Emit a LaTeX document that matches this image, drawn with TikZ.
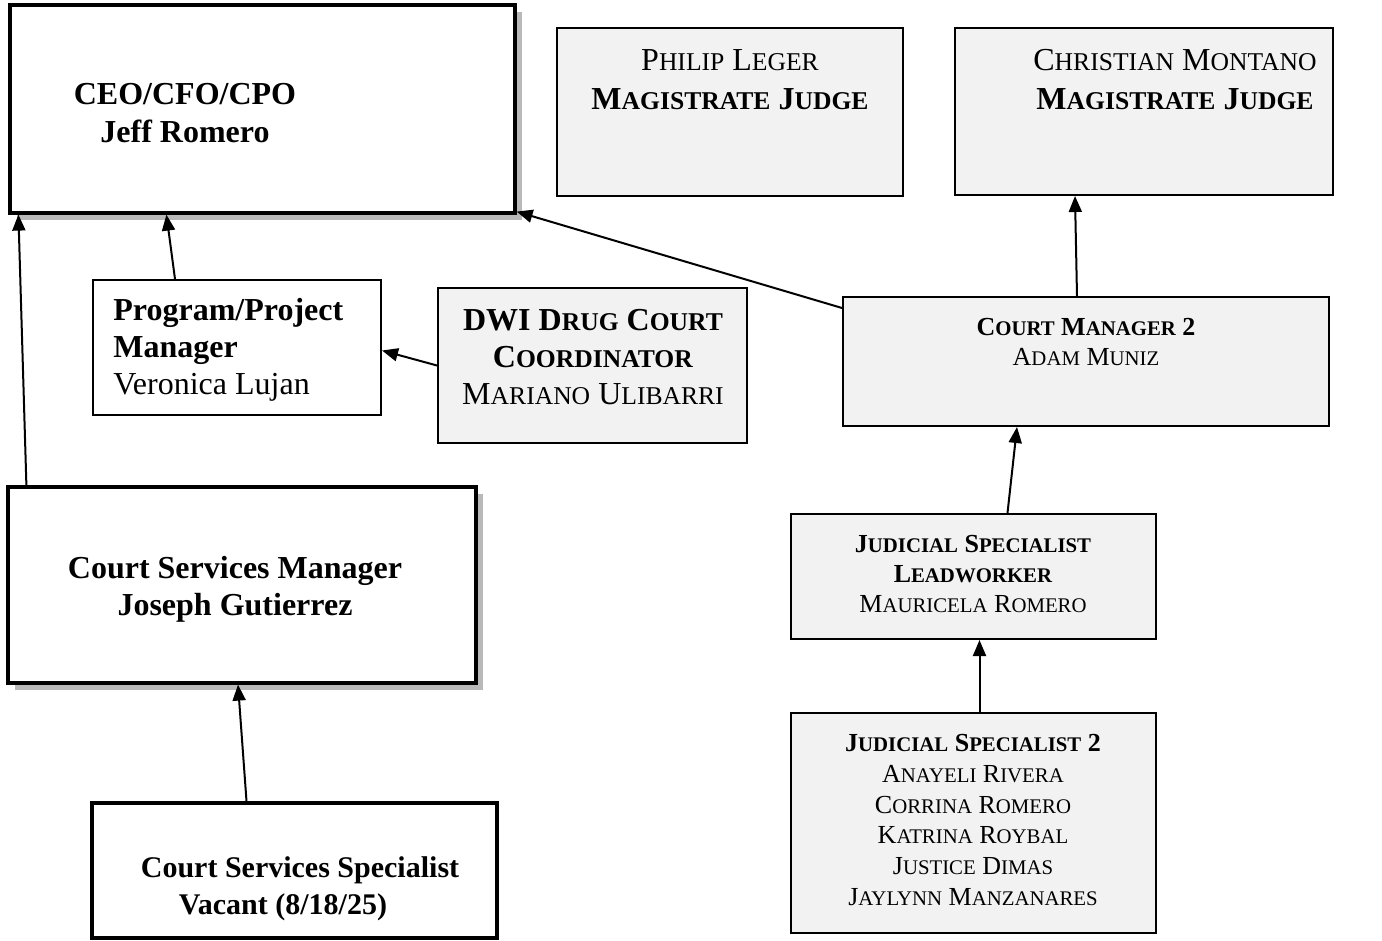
\documentclass[tikz,border=0pt]{standalone}
\usepackage{fontspec}
\setmainfont{Liberation Serif}
\usetikzlibrary{arrows.meta,fit,shadows}

\makeatletter
% fake small caps: the rest of a word set smaller
\newcommand\smcp[1]{{\fontsize{\strip@pt\dimexpr\f@size pt*8/10\relax}{\f@baselineskip}\selectfont #1}}
\makeatother
\newcommand\scw[2]{#1\smcp{#2}}

\begin{document}
\begin{tikzpicture}[x=0.5pt,y=-0.5pt,
box/.style={draw,line width=1pt,inner sep=0pt,fill=white},
heavy/.style={box,line width=1.6pt,drop shadow={shadow xshift=3.5pt,shadow yshift=-3.5pt,fill=gray!55,opacity=1}},
stip/.style={box,fill=black!5},
t16/.style={align=center,inner sep=0pt,font=\fontsize{16}{19}\selectfont},
t13/.style={align=center,inner sep=0pt,font=\fontsize{13}{15.2}\selectfont},
conn/.style={-{Triangle[length=8pt,width=6.5pt]},line width=1pt}]
\useasboundingbox (0,0) rectangle (1382,941);

% boxes
\node[heavy,fit={(10,5) (515,213)}] (ceo) {};
\node[stip,fit={(557,28) (903,196)}] (leger) {};
\node[stip,fit={(955,28) (1333,195)}] (montano) {};
\node[box,fit={(93,280) (381,415)}] (ppm) {};
\node[stip,fit={(438,288) (747,443)}] (dwi) {};
\node[stip,fit={(843,297) (1329,426)}] (cm2) {};
\node[stip,fit={(791,514) (1156,639)}] (jsl) {};
\node[stip,fit={(791,713) (1156,933)}] (js2) {};
\node[heavy,fit={(8,487) (476,683)}] (csm) {};
\node[box,line width=2pt,fit={(92,803) (497,938)}] (css) {};

% texts
\node[t16,font=\bfseries\fontsize{16}{19}\selectfont] (ceoText) at (185,113) {CEO/CFO/CPO\\Jeff Romero};
\node[t16,font=\fontsize{16}{19.5}\selectfont] (legerText) at (730,80)
  {\scw{P}{HILIP} \scw{L}{EGER}\\\textbf{\scw{M}{AGISTRATE} \scw{J}{UDGE}}};
\node[t16,font=\fontsize{16}{19.5}\selectfont] (montanoText) at (1175,80)
  {\scw{C}{HRISTIAN} \scw{M}{ONTANO}\\\textbf{\scw{M}{AGISTRATE} \scw{J}{UDGE}}};
\node[t16,align=left,anchor=west,font=\fontsize{16}{18.5}\selectfont] (ppmText) at (113,350)
  {\textbf{Program/Project}\\\textbf{Manager}\\Veronica Lujan};
\node[t16,font=\fontsize{16}{18.3}\selectfont] (dwiText) at (593,357)
  {\textbf{DWI \scw{D}{RUG} \scw{C}{OURT}}\\\textbf{\scw{C}{OORDINATOR}}\\\scw{M}{ARIANO} \scw{U}{LIBARRI}};
\node[t13] (cm2Text) at (1086,342) {\textbf{\scw{C}{OURT} \scw{M}{ANAGER} 2}\\\scw{A}{DAM} \scw{M}{UNIZ}};
\node[t13] (jslText) at (973,574)
  {\textbf{\scw{J}{UDICIAL} \scw{S}{PECIALIST}}\\\textbf{\scw{L}{EADWORKER}}\\\scw{M}{AURICELA} \scw{R}{OMERO}};
\node[t13,font=\fontsize{13}{15.4}\selectfont] (js2Text) at (973,820)
  {\textbf{\scw{J}{UDICIAL} \scw{S}{PECIALIST} 2}\\\scw{A}{NAYELI} \scw{R}{IVERA}\\\scw{C}{ORRINA} \scw{R}{OMERO}\\
   \scw{K}{ATRINA} \scw{R}{OYBAL}\\\scw{J}{USTICE} \scw{D}{IMAS}\\\scw{J}{AYLYNN} \scw{M}{ANZANARES}};
\node[t16,font=\bfseries\fontsize{16}{18.5}\selectfont] (csmText) at (235,589) {Court Services Manager\\Joseph Gutierrez};
\node[t16,font=\bfseries\fontsize{15}{18.5}\selectfont] (cssText) at (300,889) {Court Services Specialist\\Vacant (8/18/25)\hspace*{17pt}};

% reporting lines
\draw[conn] ([xshift=10pt]csm.north west) -- ([xshift=5pt]ceo.south west);
\draw[conn] ([xshift=41.5pt]ppm.north west) -- ([xshift=79pt]ceo.south west);
\draw[conn] ([yshift=-6pt]cm2.north west) -- ([yshift=1.5pt]ceo.south east);
\draw[conn] (dwi.west) -- ([yshift=-1.5pt]ppm.east);
\draw[conn] ([xshift=-4.5pt]cm2.north) -- ([xshift=-34.5pt]montano.south);
\draw[conn] ([xshift=17pt]jsl.north) -- ([xshift=-34.5pt]cm2.south);
\draw[conn] ([xshift=3pt]js2.north) -- ([xshift=3pt]jsl.south);
\draw[conn] ([xshift=-24pt]css.north) -- ([xshift=-2pt]csm.south);
\end{tikzpicture}
\end{document}
